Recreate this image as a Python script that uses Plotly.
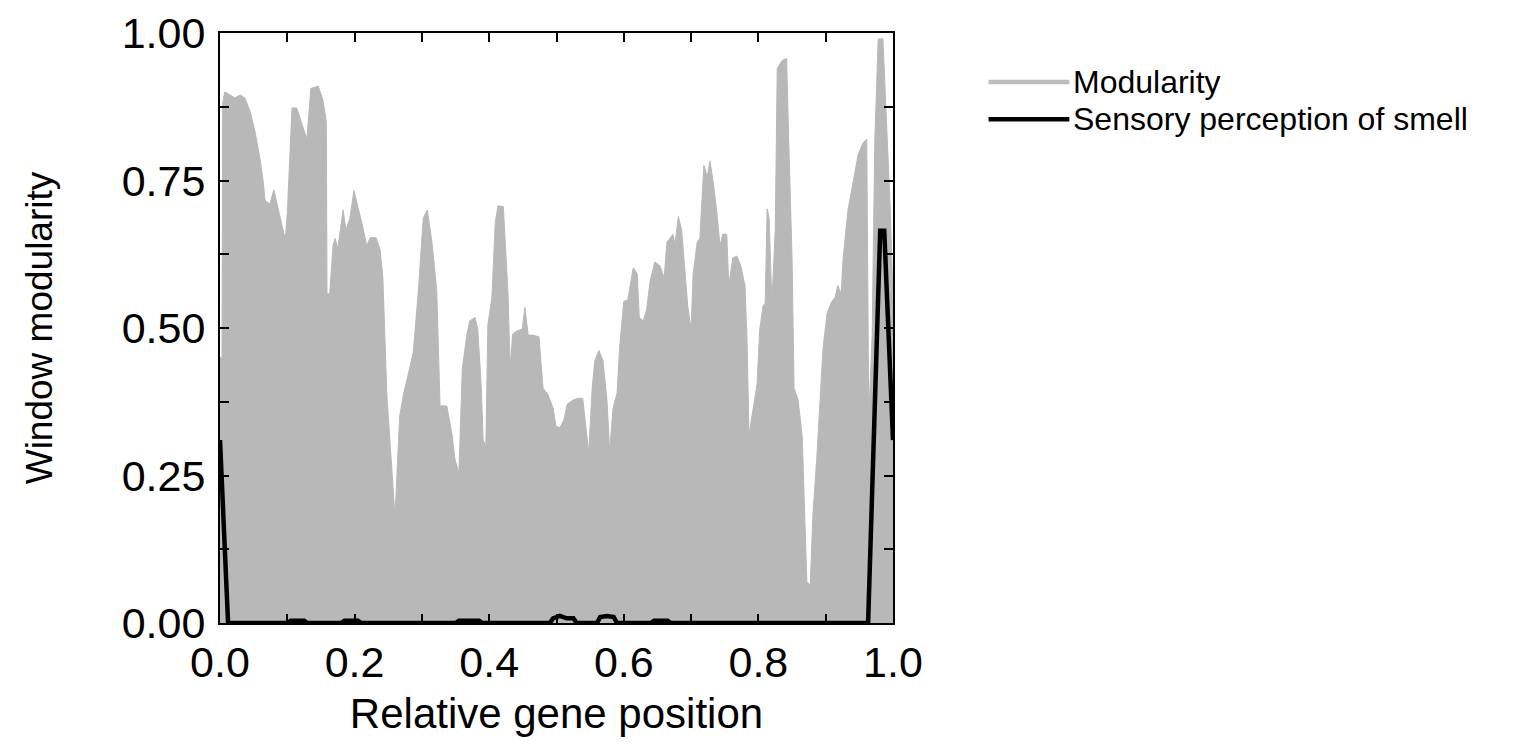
import plotly.graph_objects as go

# modularity profile (relative gene position, window modularity)
mod_x = [0.000, 0.003, 0.004, 0.007, 0.015, 0.022, 0.030, 0.037, 0.045, 0.052,
         0.059, 0.064, 0.067, 0.074, 0.080, 0.086, 0.094, 0.097, 0.100, 0.107,
         0.114, 0.122, 0.129, 0.135, 0.146, 0.153, 0.158, 0.159, 0.163, 0.168,
         0.171, 0.175, 0.183, 0.187, 0.193, 0.199, 0.205, 0.212, 0.218, 0.223,
         0.232, 0.238, 0.242, 0.248, 0.254, 0.260, 0.267, 0.273, 0.279, 0.287,
         0.294, 0.302, 0.308, 0.315, 0.322, 0.327, 0.337, 0.345, 0.349, 0.355,
         0.360, 0.367, 0.371, 0.379, 0.383, 0.388, 0.391, 0.395, 0.398, 0.404,
         0.409, 0.413, 0.421, 0.425, 0.428, 0.431, 0.435, 0.441, 0.449, 0.453,
         0.458, 0.465, 0.474, 0.480, 0.487, 0.495, 0.499, 0.505, 0.511, 0.516,
         0.525, 0.532, 0.539, 0.545, 0.548, 0.553, 0.557, 0.563, 0.569, 0.575,
         0.579, 0.584, 0.590, 0.594, 0.600, 0.606, 0.614, 0.620, 0.623, 0.629,
         0.634, 0.639, 0.646, 0.654, 0.660, 0.664, 0.669, 0.673, 0.676, 0.681,
         0.686, 0.691, 0.695, 0.700, 0.703, 0.709, 0.713, 0.719, 0.724, 0.728,
         0.733, 0.738, 0.743, 0.747, 0.753, 0.756, 0.762, 0.768, 0.774, 0.780,
         0.783, 0.786, 0.792, 0.798, 0.802, 0.807, 0.810, 0.813, 0.816, 0.820,
         0.825, 0.828, 0.835, 0.842, 0.845, 0.850, 0.853, 0.859, 0.865, 0.869,
         0.872, 0.877, 0.881, 0.887, 0.892, 0.896, 0.902, 0.909, 0.914, 0.918,
         0.923, 0.926, 0.933, 0.941, 0.948, 0.955, 0.961, 0.964, 0.969, 0.973,
         0.978, 0.985, 0.991, 0.996, 1.000]
mod_y = [0.45, 0.45, 0.88, 0.90, 0.895, 0.89, 0.895, 0.89, 0.866, 0.833,
         0.79, 0.75, 0.716, 0.71, 0.734, 0.705, 0.666, 0.65, 0.695, 0.873,
         0.873, 0.846, 0.82, 0.906, 0.91, 0.886, 0.85, 0.558, 0.558, 0.64,
         0.652, 0.635, 0.70, 0.666, 0.686, 0.733, 0.706, 0.672, 0.639, 0.653,
         0.653, 0.632, 0.585, 0.385, 0.284, 0.18, 0.351, 0.39, 0.418, 0.458,
         0.552, 0.686, 0.70, 0.645, 0.565, 0.368, 0.368, 0.318, 0.278, 0.254,
         0.431, 0.49, 0.512, 0.518, 0.498, 0.405, 0.311, 0.298, 0.505, 0.552,
         0.679, 0.707, 0.706, 0.619, 0.558, 0.435, 0.49, 0.495, 0.498, 0.535,
         0.488, 0.488, 0.485, 0.398, 0.388, 0.364, 0.334, 0.331, 0.344, 0.371,
         0.378, 0.381, 0.381, 0.318, 0.29, 0.398, 0.445, 0.462, 0.445, 0.378,
         0.29, 0.364, 0.39, 0.47, 0.545, 0.548, 0.602, 0.592, 0.518, 0.512,
         0.532, 0.579, 0.612, 0.605, 0.585, 0.645, 0.652, 0.659, 0.642, 0.689,
         0.666, 0.585, 0.538, 0.498, 0.592, 0.645, 0.652, 0.776, 0.756, 0.783,
         0.746, 0.699, 0.639, 0.659, 0.659, 0.572, 0.619, 0.622, 0.605, 0.572,
         0.485, 0.318, 0.358, 0.405, 0.498, 0.538, 0.542, 0.702, 0.686, 0.542,
         0.666, 0.94, 0.953, 0.957, 0.82, 0.619, 0.398, 0.378, 0.318, 0.15,
         0.07, 0.064, 0.184, 0.284, 0.378, 0.465, 0.525, 0.545, 0.552, 0.572,
         0.558, 0.619, 0.699, 0.752, 0.793, 0.813, 0.82, 0.351, 0.485, 0.82,
         0.99, 0.99, 0.82, 0.70, 0.55]

# sensory perception of smell
smell_x = [0.0, 0.012, 0.10, 0.105, 0.125, 0.13, 0.18, 0.185, 0.205, 0.21,
           0.35, 0.355, 0.385, 0.39, 0.49, 0.495, 0.505, 0.515, 0.525, 0.53,
           0.56, 0.565, 0.575, 0.585, 0.59, 0.64, 0.645, 0.665, 0.67, 0.955,
           0.963, 0.981, 0.987, 1.0]
smell_y = [0.31, 0.0, 0.0, 0.004, 0.004, 0.0, 0.0, 0.004, 0.004, 0.0,
           0.0, 0.004, 0.004, 0.0, 0.0, 0.008, 0.012, 0.008, 0.008, 0.0,
           0.0, 0.01, 0.012, 0.01, 0.0, 0.0, 0.004, 0.004, 0.0, 0.0,
           0.0, 0.665, 0.665, 0.31]

legend_names = ["Modularity", "Sensory perception of smell"]

FONT = "Liberation Sans, Arial, sans-serif"
GRAY = "#b8b8b8"

fig = go.Figure()
fig.add_trace(go.Scatter(x=mod_x, y=mod_y, mode="lines", fill="tozeroy",
                         fillcolor=GRAY, line=dict(color=GRAY, width=1),
                         name=legend_names[0], showlegend=False))
fig.add_trace(go.Scatter(x=smell_x, y=smell_y, mode="lines",
                         line=dict(color="black", width=4.5),
                         name=legend_names[1], showlegend=False))

# hand-made legend with long line samples
for i, (name, col) in enumerate(zip(legend_names, ["#bdbdbd", "black"])):
    yy = 0.917 - i * 0.063
    fig.add_shape(type="line", xref="paper", yref="paper",
                  x0=1.142, x1=1.262, y0=yy, y1=yy,
                  line=dict(color=col, width=4.5))
    fig.add_annotation(x=1.266, y=yy, xref="paper", yref="paper",
                       text=name, showarrow=False, xanchor="left",
                       yanchor="middle", borderpad=0,
                       font=dict(size=32, color="black"))

axis_common = dict(showline=True, linecolor="black", linewidth=2, mirror="ticks",
                   ticks="inside", ticklen=9, tickwidth=2, tickcolor="black",
                   showgrid=False, zeroline=False, automargin=False,
                   tickfont=dict(size=43, color="black"))

fig.update_xaxes(range=[0, 1], tickvals=[0, 0.2, 0.4, 0.6, 0.8, 1.0],
                 tickformat=".1f",
                 minor=dict(dtick=0.1, ticks="inside", ticklen=9, tickwidth=2,
                            tickcolor="black"),
                 title=dict(text="Relative gene position", font=dict(size=42),
                            standoff=14),
                 **axis_common)
fig.update_yaxes(range=[0, 1], tickvals=[0, 0.25, 0.5, 0.75, 1.0],
                 tickformat=".2f", ticklabelstandoff=4,
                 minor=dict(dtick=0.125, ticks="inside", ticklen=9, tickwidth=2,
                            tickcolor="black"),
                 title=dict(text="Window modularity", font=dict(size=37),
                            standoff=58),
                 **axis_common)

fig.update_layout(width=1519, height=756,
                  margin=dict(l=212, r=634, t=25, b=141),
                  plot_bgcolor="white", paper_bgcolor="white",
                  font=dict(family=FONT, color="black"))

fig.write_html("out.html")
